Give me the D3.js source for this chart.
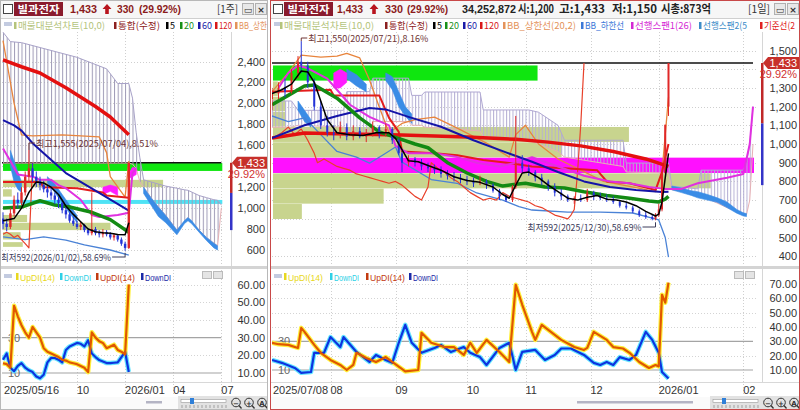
<!DOCTYPE html>
<html><head><meta charset="utf-8">
<script src="https://cdn.jsdelivr.net/npm/d3@7"></script>
<style>body{margin:0;background:#fff;}svg{display:block;}</style>
</head><body><svg id="c" width="800" height="410"></svg>
<script>
// ================= DATA : weekly panel (left) =================
const wDateTicks = [[0,'2025/05/16'],[20,'10'],[33,'2026/01'],[46,'04'],[59,'07']];
const wPriceLabels = [2400,2200,2000,1800,1600,1200,1000,800,600];
const wPriceGrid = [2400,2200,2000,1800,1600,1400,1200,1000,800,600];
const wDmiLabels = [60,50,40,30,20,10];
// [week, open, high, low, close]
const wCandles = [
 [0,900,960,800,850],[1,850,900,780,820],[2,820,1000,800,950],[3,950,1120,920,1080],
 [4,1080,1150,1000,1050],[5,1050,1200,1030,1150],[6,1150,1350,1120,1300],[7,1300,1555,1250,1380],
 [8,1380,1430,1250,1300],[9,1300,1350,1200,1260],[10,1260,1300,1170,1220],[11,1220,1260,1150,1180],
 [12,1180,1220,1100,1150],[13,1150,1200,1080,1120],[14,1120,1150,1040,1080],[15,1080,1110,1000,1050],
 [16,1050,1070,950,980],[17,980,1020,900,940],[18,940,960,860,880],[19,880,920,830,850],
 [20,850,880,800,820],[21,820,870,790,840],[22,840,850,770,790],[23,790,810,740,760],
 [24,760,1150,740,800],[25,800,820,740,760],[26,760,790,720,750],[27,750,800,720,770],
 [28,770,790,730,750],[29,750,770,700,720],[30,720,760,690,740],[31,740,750,680,700],
 [32,700,720,640,660],[33,660,680,592,620],[34,620,1433,610,1433]
];
const wMA5 = [[0,880],[3,900],[5,1000],[7,1150],[9,1250],[11,1240],[13,1200],[15,1130],[17,1020],[19,940],[21,870],[23,800],[25,775],[27,765],[29,760],[31,748],[33,745],[34,860]];
const wMA20 = [[0,1000],[5,1010],[10,1070],[14,1030],[18,1010],[24,960],[29,890],[34,770]];
const wMA60 = [[0,1840],[3,1790],[5,1740],[8,1620],[11,1525],[17,1335],[26,1145],[34,975]];
const wMA120 = [[0,2415],[5,2350],[10,2290],[17,2150],[25,1970],[29,1870],[34,1700]];
const wBBU = [[0,2600],[1,2400],[3,2000],[5,1700],[8,1690],[16,1700],[26,1680],[28,1530],[29,1300],[33,1105],[34,1450]];
const wBBL = [[0,725],[6,700],[11,725],[17,695],[22,648],[29,600],[34,552]];
const wKijun = [[0,1250],[10,1250],[11,1200],[20,1190],[27,1150],[28,1120],[34,1100]];
const wSpan1 = [[0,1570],[2,1450],[4,1320],[8,1300],[10,1270],[13,1270],[15,1220],[17,1190],[21,1080],[24,935],[26,915],[31,935],[34,955],[35,1335],[36,1380]];
// [week, top, bottom]
const wCloud = [[0,2680,1430],[2,2590,1430],[5,2580,1430],[20,2440,1430],[28,2330,1430],[31,2190,1430],[34,2190,1430],
 [35,2050,1420],[36,1720,1380],[37,1480,1250],[38,1270,1200],[40,1250,1100],[42,1230,1010],[44,1210,930],
 [47,1190,790],[49,1175,870],[50,1170,910],[53,1120,790],[55,1100,720],[57,1080,665],[58,1075,640],[59,1030,1000]];
const wBlueStrips = [
 [[2,1550,1400],[3,1450,1250],[4,1350,1180],[5,1250,1150]],
 [[12,1300,1240],[14,1230,1150],[16,1130,1050],[18,1030,950],[20,930,860]],
 [[38,1200,1140],[40,1100,1030],[42,1010,920],[44,930,860],[47,790,745],[49,880,850],[50,910,880],[51,880,850],[53,790,770],[55,720,690],[57,665,620],[58,640,600]]
];
const wMagStrips = [
 [[27,1200,1130],[29,1220,1160],[31,1200,1120]],
 [[34,1330,1280],[35,1390,1300],[36,1380,1320]]
];
// volume profile: [low, high, volume, kind]
const wProfile = [[630,675,9,'n'],[700,770,8,'n'],[790,860,49,'n'],[867,935,11,'n'],[1040,1078,100,'alt'],
 [1110,1180,4,'n'],[1200,1270,73,'n'],[1355,1430,100,'cur']];
const wUpDI = [15.5,15,13,48,42,37,33,30,36,33,30,24,22,21,20,19,17.5,17,16,15.5,15,14,13,10.5,33,30,28,27,24,25,26,23,22,20.5,60];
const wDownDI = [17.5,21,13,11,14,15.6,13,11.5,10.5,8,7,9,16,18.5,18.5,17.5,16,23,25,26,27,26.5,25,28.5,21,19,17.3,16.5,15.6,15.6,15.8,16,19,22,10.6];

// ================= DATA : daily panel (right) =================
const dDateTicks = [[0,'2025/07/08'],[18,'08'],[38,'09'],[60,'10'],[78,'11'],[98,'12'],[119,'2026/01'],[145,'02']];
const dPriceLabels = [1500,1300,1200,1100,1000,900,800,700,600,500,400];
const dPriceGrid = [1500,1400,1300,1200,1100,1000,900,800,700,600,500,400];
const dDmiLabels = [70,60,50,40,30,20,10];
const dCandles = [
 [0,1240,1300,1180,1270],[2,1270,1330,1240,1300],[4,1300,1350,1250,1280],[6,1280,1400,1270,1380],
 [8,1380,1470,1350,1440],[9,1440,1550,1380,1420],[11,1420,1440,1300,1330],[13,1330,1350,1180,1200],
 [15,1200,1230,1080,1100],[17,1100,1150,1040,1060],[19,1060,1100,1020,1050],[21,1050,1120,1030,1090],
 [23,1090,1110,1020,1040],[25,1040,1100,1020,1070],[27,1070,1090,1030,1040],[29,1040,1080,1010,1060],
 [31,1060,1120,1040,1090],[33,1090,1100,1030,1050],[35,1050,1110,1040,1080],[37,1080,1090,1000,1020],
 [39,1020,1030,940,950],[40,950,960,850,900],[42,900,940,880,920],[44,920,930,880,900],
 [46,900,920,860,880],[48,880,900,850,870],[50,870,890,840,860],[52,860,880,820,840],
 [54,840,860,810,830],[56,830,850,800,820],[58,820,840,790,810],[60,810,830,780,800],
 [62,800,820,770,790],[64,790,830,780,800],[66,800,810,760,780],[68,780,790,740,750],
 [70,750,760,700,720],[72,720,730,690,700],[74,700,780,690,770],[75,770,1150,760,900],
 [77,900,940,850,870],[79,870,890,830,850],[81,850,860,800,820],[83,820,840,780,800],
 [85,800,810,750,770],[87,770,790,720,740],[89,740,760,700,720],[91,720,730,690,700],
 [93,700,720,680,710],[95,710,730,690,700],[97,700,760,690,740],[99,740,750,700,720],
 [101,720,740,700,710],[103,710,730,690,700],[105,700,720,680,690],[107,690,700,660,670],
 [109,670,690,650,660],[111,660,670,630,640],[113,640,650,610,620],[115,620,640,600,610],
 [117,610,620,592,600],[118,600,630,592,620],[119,620,680,610,650],[120,650,845,640,845],
 [121,845,1103,840,1103],[122,1200,1433,1150,1433]
];
const dMA5 = [[0,1270],[3,1290],[6,1320],[9,1390],[11,1385],[13,1330],[15,1230],[17,1130],[20,1060],[24,1050],[28,1045],[32,1060],[36,1060],[38,1030],[40,970],[42,910],[45,905],[48,885],[52,860],[56,825],[60,805],[64,795],[68,770],[71,730],[73,710],[75,780],[77,845],[79,850],[82,820],[85,780],[88,745],[91,710],[94,700],[97,715],[100,725],[103,705],[106,700],[109,690],[112,670],[115,640],[118,615],[119,625],[120,690],[121,820],[122,950]];
const dMA20 = [[0,1210],[5,1260],[10,1310],[13,1315],[20,1245],[27,1140],[33,1065],[38,1035],[44,1000],[48,980],[54,900],[60,845],[66,800],[71,775],[75,785],[78,790],[84,770],[90,765],[96,745],[103,725],[110,710],[116,695],[119,690],[121,705],[122,720]];
const dMA60 = [[0,1032],[10,1100],[20,1150],[30,1192],[35,1185],[42,1145],[52,1092],[62,1020],[72,955],[80,905],[88,850],[96,800],[104,770],[112,754],[120,743],[122,745]];
const dMA120 = [[0,1032],[10,1059],[20,1055],[40,1048],[60,1037],[75,1025],[85,1010],[95,990],[105,960],[115,920],[122,880]];
const dBBU = [[0,1280],[5,1380],[9,1475],[15,1465],[20,1470],[23,1485],[27,1460],[30,1342],[33,1198],[36,1060],[40,1110],[44,1130],[50,1144],[57,1085],[66,1005],[73,930],[75,1050],[78,1100],[82,1000],[88,920],[95,860],[102,800],[108,780],[114,760],[118,745],[120,850],[121,1050],[122,1250]];
const dBBL = [[0,1150],[5,1120],[10,1140],[15,1050],[20,960],[26,930],[30,898],[34,940],[38,984],[40,903],[49,810],[57,790],[63,738],[71,700],[76,665],[80,647],[91,636],[101,636],[111,631],[117,604],[119,594],[121,500],[122,395]];
const dKijun = [[0,1280],[18,1290],[19,1260],[33,1260],[34,1220],[36,1140],[39,1065],[40,960],[50,950],[57,940],[65,914],[73,898],[80,880],[90,870],[100,860],[103,800],[110,790],[118,754],[120,850],[122,1000]];
const dSpan1 = [[2,1300],[5,1380],[8,1420],[11,1405],[17,1350],[20,1290],[24,1210],[30,1145],[36,1100],[38,990],[42,950],[50,950],[57,930],[63,900],[70,880],[75,900],[80,930],[88,880],[96,830],[104,800],[110,790],[116,770],[121,760],[126,760],[131,790],[140,820],[145,840],[147,1000],[148,1200]];
const dCloud = [[0,1230,1090],[6,1230,1090],[8,1180,1100],[22,1180,1090],[23,1280,1060],[30,1280,1060],[31,1352,1120],[42,1352,1120],
 [43,1260,1100],[46,1260,1100],[47,1278,1090],[64,1278,1070],[65,1182,1040],[79,1182,1020],[82,1170,1000],[88,1100,960],
 [90,1020,930],[108,1020,880],[109,898,850],[122,898,845],[123,775,755],[131,760,735],[132,860,720],[135,860,700],
 [140,860,660],[145,860,625],[146,900,622],[147,1000,700],[148,1200,1000]];
const dBlueStrips = [
 [[8,1230,1180],[10,1180,1120],[12,1130,1090]],
 [[23,1400,1350],[26,1370,1310],[29,1320,1280]],
 [[35,1380,1340],[37,1360,1290],[39,1280,1200],[41,1200,1150],[43,1160,1110]],
 [[123,775,755],[126,765,740],[129,750,725],[131,745,712],[134,730,700],[137,712,688],[140,690,660],[143,650,630],[145,632,615],[146,628,612]]
];
const dMagStrips = [[[19,1380,1300],[21,1400,1300],[23,1380,1330]]];
const dProfile = [[599,679,6,'n'],[681,761,23,'n'],[763,843,91,'n'],[845,927,100,'max'],[929,1009,60,'n'],
 [1011,1091,74,'n'],[1093,1171,2.5,'n'],[1175,1253,2.5,'n'],[1257,1335,1,'n'],[1339,1420,55,'cur']];
const dUpDI = [[0,29],[2,28],[5,27.5],[8,25.4],[9,39.4],[10,36.6],[13,27.5],[15,22],[18,17],[21,13.5],[23,10],[25,13.5],[26,22],[29,18.4],[32,15.6],[35,19],[37,15.6],[41,9],[45,10],[46,36],[49,29],[53,26],[56,26],[59,20.5],[61,29],[63,22],[66,31],[70,22.6],[73,15.6],[75,69.4],[77,55.5],[80,36.6],[81,31],[83,41.5],[89,31],[93,26],[96,24],[97,25.4],[99,36.6],[103,31],[105,26],[108,25],[110,22],[113,15.6],[116,11.4],[118,13.5],[119,12.5],[120,62.5],[121,57],[122,71]];
const dDownDI = [[0,17],[3,15],[7,11.4],[9,8],[12,8.6],[13,22],[16,22],[18,33],[21,26],[22,33],[26,22.6],[30,15.6],[32,20.5],[35,17],[37,15],[39,29],[41,41.5],[43,29],[46,22],[50,25.4],[52,27.5],[55,22.6],[59,26],[61,22],[64,19],[66,13.5],[70,25.4],[73,29],[75,10],[77,22.6],[81,24],[84,17],[87,20.5],[89,25],[92,25],[96,20.5],[99,15],[101,13.5],[103,15.6],[105,13.5],[107,19],[110,17],[112,20.5],[115,36.6],[117,31],[119,22],[120,8.6],[122,4]];

const stockName = '빌과전자';
const lastPrice = 1433, change = 330, changePct = '29.92%';
const laggingShift = 26;

// ================= DRAWING =================
const FONT = '"Liberation Sans","Noto Sans CJK KR",sans-serif';
const KFONT = '"Noto Sans CJK KR","Liberation Sans",sans-serif';
const svg = d3.select('#c');
const defs = svg.append('defs');
const fmt = d3.format(',');

function txt(g,x,y,s,o={}){
  const t=g.append('text').attr('x',x).attr('y',y).text(s)
    .attr('font-family',o.ff||FONT).attr('font-size',o.fs||11).attr('fill',o.fill||'#222')
    .attr('font-weight',o.fw||'normal').attr('text-anchor',o.anchor||'start');
  if(o.len) t.attr('textLength',o.len).attr('lengthAdjust','spacingAndGlyphs');
  return t;
}
function upArrow(g,x,y,c){
  g.append('path').attr('d',`M${x},${y-6}L${x-4.5},${y-1}L${x-1.8},${y-1}L${x-1.8},${y+4}L${x+1.8},${y+4}L${x+1.8},${y-1}L${x+4.5},${y-1}Z`).attr('fill',c);
}

function drawPanel(P){
  const X=d3.scaleLinear().domain(P.xDom).range(P.xRange);
  const Y=d3.scaleLinear().domain(P.yDom).range(P.yRange);
  const YS=d3.scaleLinear().domain(P.sDom).range(P.sRange);
  const pc='pc'+P.id, mc='mc'+P.id, sc='sc'+P.id, hp='hp'+P.id;
  defs.append('clipPath').attr('id',pc).append('rect').attr('x',P.x0).attr('y',0).attr('width',P.x1-P.x0).attr('height',410);
  defs.append('clipPath').attr('id',mc).append('rect').attr('x',P.plotL).attr('y',P.mainTop).attr('width',P.plotR-P.plotL).attr('height',P.mainBot-P.mainTop);
  defs.append('clipPath').attr('id',sc).append('rect').attr('x',P.plotL).attr('y',P.subTop).attr('width',P.plotR-P.plotL).attr('height',P.subBot-P.subTop);
  const pat=defs.append('pattern').attr('id',hp).attr('patternUnits','userSpaceOnUse').attr('width',P.hatchW).attr('height',8).attr('x',P.xRange[0]);
  pat.append('line').attr('x1',0.5).attr('x2',0.5).attr('y1',0).attr('y2',8).attr('stroke',P.hatchColor).attr('stroke-width',1);

  const root=svg.append('g').attr('clip-path',`url(#${pc})`);
  root.append('rect').attr('x',P.x0).attr('y',0).attr('width',P.x1-P.x0).attr('height',410).attr('fill','#fff');

  // ---- header ----
  root.append('rect').attr('x',P.x0).attr('y',0).attr('width',P.x1-P.x0).attr('height',18).attr('fill','#f6f6f6');
  root.append('line').attr('x1',P.x0).attr('x2',P.x1).attr('y1',18.5).attr('y2',18.5).attr('stroke','#cfcfcf');
  root.append('rect').attr('x',P.x0+3.5).attr('y',4.5).attr('width',9).attr('height',9).attr('fill','#fff').attr('stroke','#444');
  root.append('rect').attr('x',P.x0+14).attr('y',2).attr('width',49).attr('height',14).attr('fill','#8a1b2d');
  txt(root,P.x0+38.5,12.5,stockName,{ff:KFONT,fs:10.5,fill:'#fff',fw:'bold',anchor:'middle',len:42});
  P.header.forEach(h=>{
    if(h.arrow){upArrow(root,h.x,10,'#b8141e');return;}
    txt(root,h.x,13,h.t,{ff:h.k?KFONT:FONT,fs:h.fs||11.5,fill:h.c,fw:h.b?'bold':'normal',len:h.len});
  });
  [[P.x1-26,'▭'],[P.x1-13,'×']].forEach(([x,s])=>{
    root.append('rect').attr('x',x+0.5).attr('y',3.5).attr('width',11).attr('height',11).attr('fill','#e8e8e8').attr('stroke','#b0b0b0');
    txt(root,x+6,12.5,s,{ff:'DejaVu Sans',fs:9,fill:'#333',anchor:'middle',fw:'bold'});
  });

  // ---- legend ----
  root.append('rect').attr('x',P.x0+4).attr('y',22).attr('width',8).attr('height',4).attr('fill','#c3cbe0');
  P.legend.forEach(l=>{
    root.append('rect').attr('x',l.x-4).attr('y',22).attr('width',2.5).attr('height',7).attr('fill',l.c);
    txt(root,l.x,28.5,l.t,{ff:KFONT,fs:9.5,fill:l.c,len:l.len});
  });

  // ---- grids ----
  const grid=root.append('g');
  P.priceGrid.forEach(v=>grid.append('line').attr('x1',P.plotL).attr('x2',P.plotR).attr('y1',Math.round(Y(v))+0.5).attr('y2',Math.round(Y(v))+0.5)
      .attr('stroke','#cfcfcf').attr('stroke-dasharray','1,2'));
  P.dateTicks.forEach(([i])=>{ if(i===0) return;
    const x=Math.round(X(i))+0.5;
    grid.append('line').attr('x1',x).attr('x2',x).attr('y1',P.mainTop).attr('y2',P.mainBot).attr('stroke','#cfcfcf').attr('stroke-dasharray','1,2');
    grid.append('line').attr('x1',x).attr('x2',x).attr('y1',P.subTop).attr('y2',P.subBot+12).attr('stroke','#cfcfcf').attr('stroke-dasharray','1,2');
  });

  // ---- main plot ----
  const plot=root.append('g').attr('clip-path',`url(#${mc})`);
  const vmax=d3.max(P.profile,d=>d[2]);
  const vx=d3.scaleLinear().domain([0,vmax]).range([0,P.xRange[1]-P.plotL]);
  const profCol={n:'#c8d48e',cur:'#0fe60f',max:'#ff10ff',alt:'#4fe3f5'};
  plot.selectAll('rect.prof').data(P.profile).join('rect').attr('class','prof')
    .attr('x',P.plotL+1).attr('y',d=>Y(d[1])).attr('width',d=>vx(d[2])).attr('height',d=>Math.max(2,Y(d[0])-Y(d[1])))
    .attr('fill',d=>profCol[d[3]]);
  plot.append('line').attr('x1',P.plotL).attr('x2',P.xRange[1]).attr('y1',Y(lastPrice)).attr('y2',Y(lastPrice)).attr('stroke','#111').attr('stroke-width',1.5);
  const area3=d3.area().x(d=>X(d[0])).y0(d=>Y(d[2])).y1(d=>Y(d[1]));
  plot.append('path').datum(P.cloud).attr('d',area3).attr('fill',`url(#${hp})`);
  plot.append('path').datum(P.cloud).attr('d',d3.line().x(d=>X(d[0])).y(d=>Y(d[1]))).attr('fill','none').attr('stroke',P.cloudTop).attr('stroke-width',1);
  plot.append('path').datum(P.cloud).attr('d',d3.line().x(d=>X(d[0])).y(d=>Y(d[2]))).attr('fill','none').attr('stroke','#e6b0b4').attr('stroke-width',1);
  P.blue.forEach(s=>plot.append('path').datum(s).attr('d',area3).attr('fill','#3a8ce6').attr('stroke','#3a8ce6').attr('stroke-width',0.6));
  P.mag.forEach(s=>plot.append('path').datum(s).attr('d',area3).attr('fill','#ff1cff').attr('stroke','#ff1cff').attr('stroke-width',0.6));
  const ln=d3.line().x(d=>X(d[0])).y(d=>Y(d[1]));
  const drawLine=(data,c,w)=>plot.append('path').datum(data).attr('d',ln).attr('fill','none').attr('stroke',c).attr('stroke-width',w).attr('stroke-linejoin','round');
  drawLine(P.bbl,'#4a82d6',1.3);
  drawLine(P.bbu,'#e8843c',1.3);
  const lag=P.candles.filter(c=>c[0]>=laggingShift).map(c=>[c[0]-laggingShift,c[4]]);
  drawLine(lag,'#e8402a',1.2);
  drawLine(P.kijun,'#e41c1c',2);
  drawLine(P.span1,'#e030e0',2);
  drawLine(P.ma120,'#e41010',3.5);
  drawLine(P.ma60,'#1414a8',2);
  drawLine(P.ma20,'#138a13',3.5);
  const cg=plot.append('g');
  const colOf=d=>d[4]>=d[1]?'#e02828':'#2434d8';
  cg.selectAll('line').data(P.candles).join('line')
    .attr('x1',d=>X(d[0])).attr('x2',d=>X(d[0])).attr('y1',d=>Y(d[2])).attr('y2',d=>Y(d[3])).attr('stroke',colOf).attr('stroke-width',1);
  cg.selectAll('rect').data(P.candles).join('rect')
    .attr('x',d=>X(d[0])-P.cw/2).attr('width',P.cw).attr('y',d=>Y(Math.max(d[1],d[4]))).attr('height',d=>Math.max(1,Math.abs(Y(d[1])-Y(d[4]))))
    .attr('fill',colOf);
  drawLine(P.ma5,'#000',1.5);

  // annotations
  const hi=P.hiNote, lo=P.loNote;
  const hx=X(hi.i), hy=Y(hi.v);
  plot.append('path').attr('d',`M${hx},${hy}V${hi.y}H${hx+6}`).attr('fill','none').attr('stroke','#6e3434').attr('stroke-width',1);
  txt(plot,hx+7,hi.y+3.5,hi.t,{ff:KFONT,fs:9.5,fill:'#6e3434',len:hi.len});
  const lx=X(lo.i), ly=Y(lo.v);
  plot.append('path').attr('d',`M${lx},${ly+2}V${lo.y}H${lx-13}`).attr('fill','none').attr('stroke','#3c3c5a').attr('stroke-width',1);
  txt(plot,lx-14,lo.y+3.5,lo.t,{ff:KFONT,fs:9.5,fill:'#3c3c5a',anchor:'end',len:lo.len});

  // ---- price axis ----
  root.append('line').attr('x1',P.axisX+0.5).attr('x2',P.axisX+0.5).attr('y1',P.mainTop).attr('y2',P.subBot).attr('stroke','#d6d6d6');
  P.priceLabels.forEach(v=>txt(root,P.labelR,Y(v)+4,fmt(v),{fs:11,fill:'#333',anchor:'end'}));
  root.append('rect').attr('x',P.axisX-1).attr('y',Y(lastPrice)).attr('width',2.5).attr('height',Y(P.barMid)-Y(lastPrice)).attr('fill','#c02828');
  root.append('rect').attr('x',P.axisX-1).attr('y',Y(P.barMid)).attr('width',2.5).attr('height',Y(P.barLow)-Y(P.barMid)).attr('fill','#3434c8');
  const ty=Y(lastPrice);
  root.append('path').attr('d',`M${P.axisX+1},${ty}L${P.axisX+6},${ty-6}H${P.x1}V${ty+6}H${P.axisX+6}Z`).attr('fill','#c7302b');
  txt(root,P.labelR,ty+4,fmt(lastPrice),{fs:11,fill:'#fff',anchor:'end'});
  txt(root,P.labelR,ty+15,changePct,{fs:11,fill:'#d23030',anchor:'end'});

  // ---- separator ----
  root.append('rect').attr('x',P.x0).attr('y',P.mainBot+1).attr('width',P.x1-P.x0).attr('height',3).attr('fill','#d4d4d4');

  // ---- DMI sub chart ----
  root.append('rect').attr('x',P.x0+4).attr('y',274).attr('width',8).attr('height',4).attr('fill','#c3cbe0');
  P.subLegend.forEach(l=>{
    root.append('rect').attr('x',l.x-4).attr('y',273).attr('width',2.5).attr('height',7).attr('fill',l.c);
    txt(root,l.x,281,l.t,{fs:9.5,fill:l.c,len:l.len});
  });
  [0,11].forEach(dx=>root.append('rect').attr('x',P.plotR-22+dx+0.5).attr('y',271.5).attr('width',9).attr('height',7).attr('fill','#e4e4e4').attr('stroke','#bbb'));
  P.dmiLabels.forEach(v=>{
    if(v!==30&&v!==10) root.append('line').attr('x1',P.plotL).attr('x2',P.plotR).attr('y1',Math.round(YS(v))+0.5).attr('y2',Math.round(YS(v))+0.5).attr('stroke','#d4d4d4').attr('stroke-dasharray','1,2');
    txt(root,P.labelR,YS(v)+4,v.toFixed(2),{fs:11,fill:'#333',anchor:'end'});
  });
  [30,10].forEach(v=>{
    root.append('line').attr('x1',P.plotL).attr('x2',P.xRange[1]).attr('y1',YS(v)).attr('y2',YS(v)).attr('stroke','#a4a4a4').attr('stroke-width',1.2);
    txt(root,P.plotL+6,YS(v)+4,String(v),{fs:11,fill:'#666'});
  });
  const sub=root.append('g').attr('clip-path',`url(#${sc})`);
  const sl=d3.line().x(d=>X(d[0])).y(d=>YS(d[1]));
  sub.append('path').datum(P.down).attr('d',sl).attr('fill','none').attr('stroke','#62e4ff').attr('stroke-width',4.5).attr('stroke-linejoin','round');
  sub.append('path').datum(P.up).attr('d',sl).attr('fill','none').attr('stroke','#fff03a').attr('stroke-width',4.5).attr('stroke-linejoin','round');
  sub.append('path').datum(P.down).attr('d',sl).attr('fill','none').attr('stroke','#0c34e0').attr('stroke-width',2.2).attr('stroke-linejoin','round');
  sub.append('path').datum(P.up).attr('d',sl).attr('fill','none').attr('stroke','#e05800').attr('stroke-width',2.2).attr('stroke-linejoin','round');

  // ---- date axis ----
  root.append('line').attr('x1',P.x0).attr('x2',P.x1).attr('y1',P.subBot+0.5).attr('y2',P.subBot+0.5).attr('stroke','#d8d8d8');
  P.dateTicks.forEach(([i,s])=>txt(root,X(i)+(i===0?1:0),394,s,{fs:11,fill:'#333'}));

  // ---- bottom bar ----
  root.append('rect').attr('x',P.x0).attr('y',397).attr('width',P.x1-P.x0).attr('height',13).attr('fill','#fafafa');
  root.append('rect').attr('x',P.thumb[0]).attr('y',401).attr('width',P.thumb[1]-P.thumb[0]).attr('height',2.5).attr('fill','#b4b4c4');
  const zx=P.x1-90;
  root.append('rect').attr('x',zx).attr('y',396).attr('width',90).attr('height',14).attr('fill','#e2e2e2');
  root.append('rect').attr('x',zx+3).attr('y',399.5).attr('width',45).attr('height',3).attr('fill','#fff').attr('stroke','#999').attr('stroke-width',0.6);
  for(let k=0;k<12;k++) root.append('line').attr('x1',zx+4+k*4).attr('x2',zx+4+k*4).attr('y1',405).attr('y2',408).attr('stroke','#777').attr('stroke-width',0.6);
  root.append('rect').attr('x',zx+12).attr('y',398).attr('width',4).attr('height',6).attr('fill','#2f7fd8');
  [['−',zx+58],['+',zx+71],['A',zx+84]].forEach(([s,x])=>{
    root.append('circle').attr('cx',x).attr('cy',402.5).attr('r',4.3).attr('fill','none').attr('stroke','#333').attr('stroke-width',1);
    root.append('line').attr('x1',x+3).attr('y1',405.5).attr('x2',x+5.5).attr('y2',408.5).attr('stroke','#333').attr('stroke-width',1.3);
    txt(root,x,405.5,s,{ff:'DejaVu Sans',fs:7,fill:'#333',anchor:'middle',fw:'bold'});
  });

  svg.append('rect').attr('x',P.x0+0.5).attr('y',0.5).attr('width',P.x1-P.x0-1).attr('height',409).attr('fill','none').attr('stroke',P.frame);
}

const pt=(v,i)=>[i,v];
drawPanel({
  id:'L', x0:0, x1:268, plotL:2, plotR:224, axisX:231, labelR:265,
  mainTop:32, mainBot:265, subTop:270, subBot:382,
  xDom:[0,59], xRange:[3,221.3], yDom:[600,2400], yRange:[250,61.5], sDom:[10,60], sRange:[373,284.5],
  cw:2.4, hatchW:3.7, hatchColor:'#9e9ab6', cloudTop:'#a8a2c8', frame:'#b8b8b8',
  header:[{t:fmt(lastPrice),x:70,len:27,c:'#8b1a1a',b:1},{arrow:1,x:107},{t:String(change),x:117,len:17,c:'#8b1a1a',b:1},
          {t:'('+changePct+')',x:139,len:42,c:'#8b1a1a',b:1},{t:'[1주]',x:217,len:21,c:'#333',k:1,fs:11}],
  legend:[{t:'매물대분석차트(10,0)',x:18,len:87,c:'#b4c47c'},{t:'통합(수정)',x:118,len:42,c:'#8c2020'},{t:'5',x:170,len:5,c:'#000'},
          {t:'20',x:184,len:10,c:'#179017'},{t:'60',x:202,len:10,c:'#1a1aa8'},{t:'120',x:219,len:13,c:'#d81818'},{t:'BB_상한',x:239,len:28,c:'#e4935a'}],
  subLegend:[{t:'UpDI(14)',x:20,len:35,c:'#e8d820'},{t:'DownDI',x:64,len:27,c:'#2ed0e6'},{t:'UpDI(14)',x:100,len:35,c:'#c23a10'},{t:'DownDI',x:145,len:26,c:'#1a2aa8'}],
  priceGrid:wPriceGrid, priceLabels:wPriceLabels, dateTicks:wDateTicks, dmiLabels:wDmiLabels,
  candles:wCandles, ma5:wMA5, ma20:wMA20, ma60:wMA60, ma120:wMA120, bbu:wBBU, bbl:wBBL, kijun:wKijun, span1:wSpan1,
  cloud:wCloud, blue:wBlueStrips, mag:wMagStrips, profile:wProfile,
  up:wUpDI.map(pt), down:wDownDI.map(pt),
  hiNote:{i:7,v:1555,y:143,t:'최고1,555(2025/07/04),8.51%',len:122},
  loNote:{i:33,v:592,y:257,t:'최저592(2026/01/02),58.69%',len:110},
  barMid:1145, barLow:790, thumb:[146,162]
});
drawPanel({
  id:'R', x0:270, x1:800, plotL:272, plotR:756, axisX:762, labelR:797,
  mainTop:32, mainBot:265, subTop:270, subBot:382,
  xDom:[0,148], xRange:[272,753], yDom:[1000,1500], yRange:[144,50.5], sDom:[10,70], sRange:[370,284],
  cw:2, hatchW:3.25, hatchColor:'#b4aed4', cloudTop:'#b0a8d2', frame:'#c84848',
  header:[{t:fmt(lastPrice),x:337,len:26,c:'#8b1a1a',b:1},{arrow:1,x:374},{t:String(change),x:385,len:18,c:'#8b1a1a',b:1},
          {t:'('+changePct+')',x:407,len:41,c:'#8b1a1a',b:1},{t:'34,252,872',x:462,len:54,c:'#222',b:1},
          {t:'시:1,200',x:518,len:36,c:'#222',b:1,k:1},{t:'고:1,433',x:559,len:46,c:'#222',b:1,k:1},
          {t:'저:1,150',x:612,len:45,c:'#222',b:1,k:1},{t:'시총:873억',x:661,len:50,c:'#222',b:1,k:1},
          {t:'[1일]',x:748,len:22,c:'#333',k:1,fs:11}],
  legend:[{t:'매물대분석차트(10,0)',x:284,len:90,c:'#b4c47c'},{t:'통합(수정)',x:389,len:39,c:'#8c2020'},{t:'5',x:437,len:5,c:'#000'},
          {t:'20',x:449,len:10,c:'#179017'},{t:'60',x:467,len:10,c:'#1a1aa8'},{t:'120',x:484,len:15,c:'#d81818'},
          {t:'BB_상한선(20,2)',x:507,len:69,c:'#e4935a'},{t:'BB_하한선',x:585,len:39,c:'#3c78d8'},
          {t:'선행스팬1(26)',x:635,len:57,c:'#d428d4'},{t:'선행스팬2(5',x:703,len:44,c:'#3c8cc8'},{t:'기준선(2',x:764,len:31,c:'#e02020'}],
  subLegend:[{t:'UpDI(14)',x:288,len:35,c:'#e8d820'},{t:'DownDI',x:334,len:25,c:'#2ed0e6'},{t:'UpDI(14)',x:370,len:35,c:'#c23a10'},{t:'DownDI',x:413,len:25,c:'#1a2aa8'}],
  priceGrid:dPriceGrid, priceLabels:dPriceLabels, dateTicks:dDateTicks, dmiLabels:dDmiLabels,
  candles:dCandles, ma5:dMA5, ma20:dMA20, ma60:dMA60, ma120:dMA120, bbu:dBBU, bbl:dBBL, kijun:dKijun, span1:dSpan1,
  cloud:dCloud, blue:dBlueStrips, mag:dMagStrips, profile:dProfile,
  up:dUpDI, down:dDownDI,
  hiNote:{i:9,v:1550,y:38,t:'최고1,550(2025/07/21),8.16%',len:120},
  loNote:{i:118,v:592,y:227,t:'최저592(2025/12/30),58.69%',len:114},
  barMid:1110, barLow:780, thumb:[577,693]
});
</script></body></html>
